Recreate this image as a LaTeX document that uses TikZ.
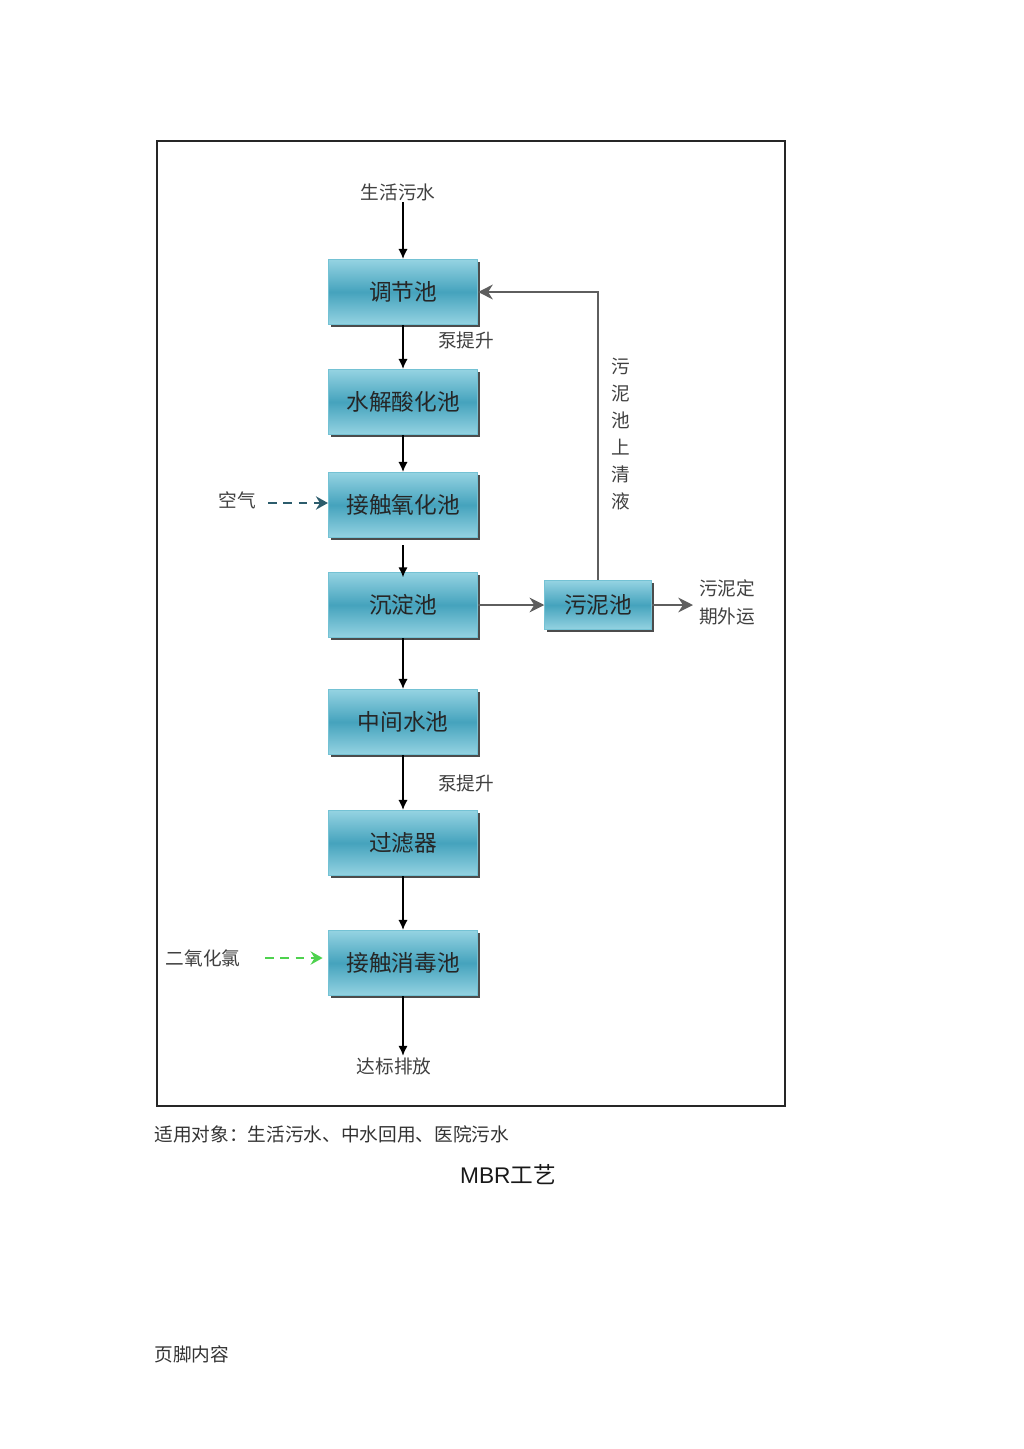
\documentclass[tikz,border=0pt]{standalone}
\usepackage{fontspec}
\setmainfont{Noto Sans CJK SC}
\newfontfamily\latinsans{Liberation Sans}
\usetikzlibrary{arrows.meta,shadows}
\definecolor{poolmid}{HTML}{45A3BD}
\definecolor{poollight}{HTML}{95D3E2}
\definecolor{pooledge}{HTML}{74C2D4}
\definecolor{airteal}{HTML}{2C5C6C}
\definecolor{chlorgreen}{HTML}{4ED24E}
\definecolor{returngray}{HTML}{5E5E5E}
\tikzset{
  pool box/.style={
    rectangle, draw=pooledge, line width=0.6pt, inner sep=0pt,
    top color=poollight, bottom color=poollight, middle color=poolmid,
    minimum width=112pt, minimum height=49pt,
    font=\fontsize{17}{19}\selectfont, text=black!85,
    drop shadow={shadow xshift=1.8pt, shadow yshift=-1.8pt, fill=black!70, opacity=1}
  },
  small pool/.style={
    pool box, minimum width=80pt, minimum height=37pt
  },
  note/.style={
    font=\fontsize{14}{16}\selectfont, text=black!75, inner sep=1pt
  },
  flow/.style={
    draw=black, line width=1.1pt, -{Latex[length=7.5pt,width=7pt]}
  },
  sludge/.style={
    draw=returngray, line width=1.7pt, -{Stealth[length=11pt,width=11pt,inset=3.5pt]}
  },
  dosing/.style={
    line width=2pt, dash pattern=on 6.5pt off 5pt, -{Stealth[length=9pt,width=10pt,inset=3pt]}
  }
}

\begin{document}
\begin{tikzpicture}[x=0.75pt,y=-0.75pt]
\useasboundingbox (0,0) rectangle (1024,1449);
% ------------------------------------------------
% 外框
% ------------------------------------------------
\draw[line width=1.3pt, black!85] (157,141) rectangle (785,1106);

% ------------------------------------------------
% 主流程：各处理池
% ------------------------------------------------
\node[note] (src) at (398,192) {生活污水};
\node[pool box] (tiaojie)  at (403,292) {调节池};
\node[pool box] (shuijie)  at (403,402) {水解酸化池};
\node[pool box] (yanghua)  at (403,505) {接触氧化池};
\node[pool box] (chendian) at (403,605) {沉淀池};
\node[pool box] (zhongjian) at (403,722) {中间水池};
\node[pool box] (guolv)    at (403,843) {过滤器};
\node[pool box] (xiaodu)   at (403,963) {接触消毒池};
\node[note] (outlet) at (394,1066) {达标排放};

\draw[flow] (tiaojie.north |- src.south) -- (tiaojie);
\draw[flow] (tiaojie) -- (shuijie);
\draw[flow] (shuijie) -- (yanghua);
\draw[flow] (yanghua.south) ++(0,7) -- ([yshift=-4pt]chendian.north);
\draw[flow] (chendian) -- (zhongjian);
\draw[flow] (zhongjian) -- (guolv);
\draw[flow] (guolv) -- (xiaodu);
\draw[flow] (xiaodu) -- (xiaodu.south |- outlet.north);

\node[note] (pump1) at (466,340) {泵提升};
\node[note] (pump2) at (466,783) {泵提升};

% ------------------------------------------------
% 加药 / 曝气
% ------------------------------------------------
\node[note] (air)  at (237,500) {空气};
\node[note] (clo2) at (203,958) {二氧化氯};
\coordinate (airEnd)  at (268,503);
\coordinate (clo2End) at (265,958);
\draw[dosing, airteal]    (airEnd)  -- (yanghua.west |- airEnd);
\draw[dosing, chlorgreen] (clo2End) -- ([xshift=-4pt]xiaodu.west |- clo2End);

% ------------------------------------------------
% 污泥处理支路
% ------------------------------------------------
\node[small pool] (wuni) at (598,605) {污泥池};
\coordinate (haul) at (693,605);
\draw[sludge] (chendian) -- (wuni);
\draw[sludge] (wuni) -- (haul);
\draw[sludge] (wuni.north) |- (tiaojie.east);
\node[note, align=left, font=\fontsize{14}{21}\selectfont] (haulLbl) at (727,602) {污泥定\\期外运};
\node[note, align=center, font=\fontsize{14}{20.2}\selectfont] (backLbl) at (621,434) {污\\泥\\池\\上\\清\\液};

% ------------------------------------------------
% 图下说明
% ------------------------------------------------
\node[note, anchor=west, text=black!80] (scope) at (153,1134) {适用对象：生活污水、中水回用、医院污水};
\node[font=\fontsize{17}{19}\selectfont, text=black!90, inner sep=0pt] (title) at (508,1175) {{\latinsans MBR}工艺};
\node[note, anchor=west, text=black!80] (footer) at (153,1354) {页脚内容};
\end{tikzpicture}
\end{document}
